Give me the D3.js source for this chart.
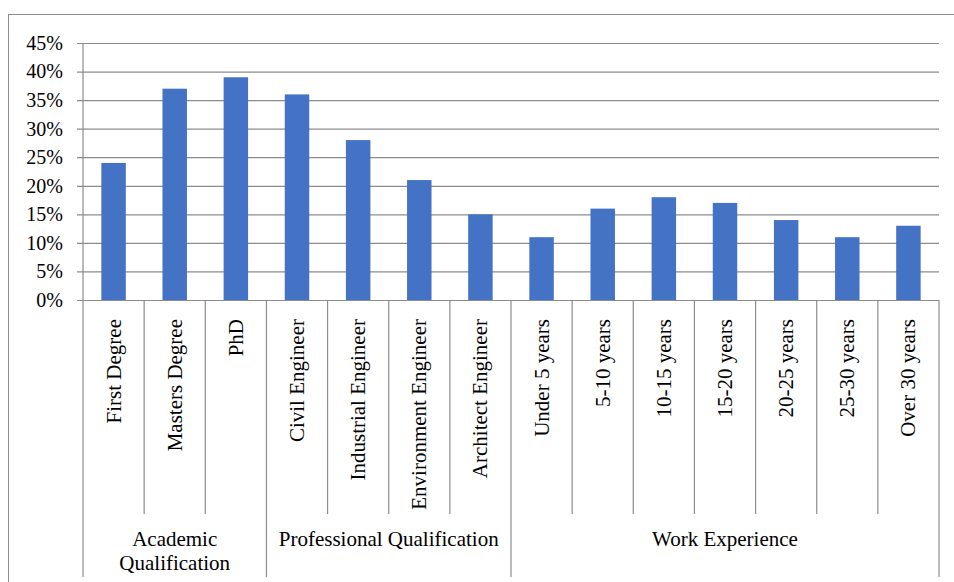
<!DOCTYPE html>
<html>
<head>
<meta charset="utf-8">
<script src="https://cdn.jsdelivr.net/npm/d3@7"></script>
<style>
  html, body { margin: 0; padding: 0; background: #fff; }
  svg { display: block; font-family: "Liberation Serif", "Times New Roman", serif; }
</style>
</head>
<body>
<svg id="chart" width="954" height="582"></svg>
<script>
// Categories, their group, and the share (%) of each
const categories = [
  "First Degree", "Masters Degree", "PhD",
  "Civil Engineer", "Industrial Engineer", "Environment Engineer", "Architect Engineer",
  "Under 5 years", "5-10 years", "10-15 years", "15-20 years", "20-25 years", "25-30 years", "Over 30 years"
];
const values = [24, 37, 39, 36, 28, 21, 15, 11, 16, 18, 17, 14, 11, 13];
const groups = [
  { name: ["Academic", "Qualification"], from: 0, to: 3 },
  { name: ["Professional Qualification"], from: 3, to: 7 },
  { name: ["Work Experience"], from: 7, to: 14 }
];
const yTicks = [0, 5, 10, 15, 20, 25, 30, 35, 40, 45];

const svg = d3.select("#chart");
const plotLeft = 83, plotRight = 939, plotTop = 43, plotBase = 300;
const gridColor = "#8c8c8c";
const serif = "Liberation Serif, Times New Roman, serif";

// outer frame
svg.append("rect").attr("x", 8.5).attr("y", 14.5).attr("width", 960).attr("height", 600)
  .attr("fill", "none").attr("stroke", gridColor).attr("stroke-width", 1);

const x = d3.scaleBand().domain(d3.range(categories.length)).range([plotLeft, plotRight]).paddingInner(0.6).paddingOuter(0.3);
const xb = d3.scaleBand().domain(d3.range(categories.length)).range([plotLeft, plotRight]);
const y = d3.scaleLinear().domain([0, 45]).range([plotBase, plotTop]);

// horizontal gridlines + tick labels
const yAxis = d3.axisLeft(y).tickValues(yTicks).tickFormat(d => d + "%").tickSize(-(plotRight - plotLeft));
const gy = svg.append("g").attr("transform", `translate(${plotLeft},0)`).call(yAxis);
gy.select(".domain").remove();
gy.selectAll(".tick line").attr("stroke", gridColor).attr("x1", -6).attr("stroke-width", 1.2);
gy.selectAll(".tick text").attr("fill", "#000").attr("font-size", 20)
  .attr("font-family", serif).attr("x", -20);

// y axis line
svg.append("line").attr("x1", plotLeft).attr("x2", plotLeft).attr("y1", plotTop).attr("y2", plotBase)
  .attr("stroke", gridColor).attr("stroke-width", 1.2);

// bars
svg.append("g").selectAll("rect").data(values).join("rect")
  .attr("x", (d, i) => x(i)).attr("width", x.bandwidth())
  .attr("y", d => y(d)).attr("height", d => y(0) - y(d))
  .attr("fill", "#4472C4");

// category separators
const inner = svg.append("g").attr("stroke", gridColor).attr("stroke-width", 1.2);
d3.range(categories.length + 1).forEach(i => {
  const xp = i < categories.length ? xb(i) : plotRight;
  const isGroupEdge = groups.some(g => g.from === i || g.to === i);
  inner.append("line").attr("x1", xp).attr("x2", xp)
    .attr("y1", plotBase).attr("y2", isGroupEdge ? 577 : 514);
});

// rotated category labels
svg.append("g").selectAll("text").data(categories).join("text")
  .attr("transform", (d, i) => `translate(${xb(i) + xb.bandwidth() / 2 + 7},319) rotate(-90)`)
  .attr("text-anchor", "end").attr("font-size", 21).attr("font-family", serif).attr("fill", "#000")
  .text(d => d);

// group labels
groups.forEach(g => {
  const cx = (xb(g.from) + (g.to < categories.length ? xb(g.to) : plotRight)) / 2;
  const t = svg.append("text").attr("text-anchor", "middle").attr("font-size", 21)
    .attr("font-family", serif).attr("fill", "#000");
  g.name.forEach((line, k) => {
    t.append("tspan").attr("x", cx).attr("y", 546 + k * 24).text(line);
  });
});
</script>
</body>
</html>
